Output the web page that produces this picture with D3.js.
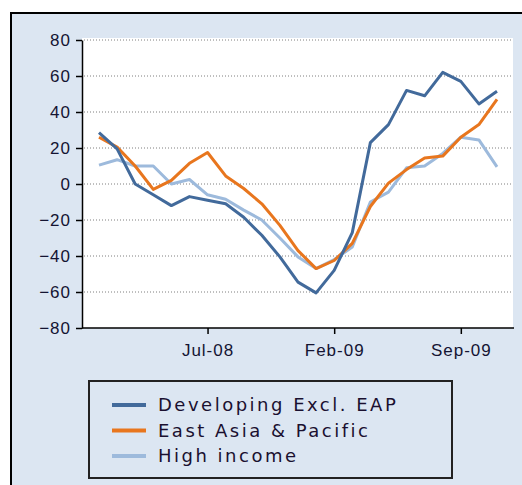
<!DOCTYPE html>
<html>
<head>
<meta charset="utf-8">
<script src="https://cdn.jsdelivr.net/npm/d3@7"></script>
<style>
  body { margin: 0; background: #fff; }
  svg { display: block; font-family: "DejaVu Sans", Verdana, sans-serif; }
</style>
</head>
<body>
<svg id="chart" width="522" height="485"></svg>
<script>
const months = ["Jan-08", "Feb-08", "Mar-08", "Apr-08", "May-08", "Jun-08", "Jul-08", "Aug-08",
  "Sep-08", "Oct-08", "Nov-08", "Dec-08", "Jan-09", "Feb-09", "Mar-09", "Apr-09", "May-09",
  "Jun-09", "Jul-09", "Aug-09", "Sep-09", "Oct-09", "Nov-09"];

const developing = [28.5, 19.5, 0, -6, -12, -7, -9, -11, -18.5, -28.5, -40.5, -54.5, -60.5,
  -48, -27, 23, 33, 52, 49, 62, 57, 44.5, 51.5];
const eastAsia = [26, 20.5, 10, -3, 2, 11.5, 17.5, 4.5, -2.5, -11, -23, -37, -47,
  -42.5, -33, -12.5, 0.5, 8, 14.5, 15.5, 26, 33, 47];
const highIncome = [10.5, 13.5, 10, 10, 0, 2.5, -6, -8.5, -14.5, -20, -30, -40.5, -47,
  -42, -35, -10, -4.5, 9, 10, 17, 26, 24.5, 9.5];

const xTicks = ["Jul-08", "Feb-09", "Sep-09"];
const yTicks = [-80, -60, -40, -20, 0, 20, 40, 60, 80];

const seriesNames = ["Developing Excl. EAP", "East Asia & Pacific", "High income"];
const seriesColors = ["#426a9b", "#e8761e", "#9dbadc"];

const series = [developing, eastAsia, highIncome].map((values, i) => ({
  name: seriesNames[i],
  color: seriesColors[i],
  values
}));

const svg = d3.select("#chart");

// outer panel, runs off the right and bottom edges
svg.append("rect")
  .attr("x", 11).attr("y", 13)
  .attr("width", 530).attr("height", 490)
  .attr("fill", "#dce6f2")
  .attr("stroke", "#000")
  .attr("stroke-width", 2);

const x = d3.scalePoint().domain(months).range([99, 497]);
const y = d3.scaleLinear().domain([-80, 80]).range([328, 40]);

svg.append("rect")
  .attr("x", 82).attr("y", 38)
  .attr("width", 431).attr("height", 290)
  .attr("fill", "#fff");

// dotted gridlines
svg.append("g")
  .selectAll("line")
  .data(yTicks.filter(d => d > -80))
  .join("line")
  .attr("x1", 84).attr("x2", 512)
  .attr("y1", d => y(d)).attr("y2", d => y(d))
  .attr("stroke", "#7f7f7f")
  .attr("stroke-width", 1)
  .attr("stroke-dasharray", "1,2");

const line = d3.line()
  .x((d, i) => x(months[i]))
  .y(d => y(d));

svg.append("g")
  .selectAll("path")
  .data(series.slice().reverse())
  .join("path")
  .attr("d", d => line(d.values))
  .attr("fill", "none")
  .attr("stroke", d => d.color)
  .attr("stroke-width", 3)
  .attr("stroke-linejoin", "round");

// axes
const yAxis = svg.append("g")
  .attr("transform", "translate(82,0)")
  .call(d3.axisLeft(y).tickValues(yTicks).tickSize(6).tickSizeOuter(0).tickPadding(5));

const xAxis = svg.append("g")
  .attr("transform", "translate(0,328)")
  .call(d3.axisBottom(x).tickValues(xTicks).tickSize(6).tickSizeOuter(0).tickPadding(10));

xAxis.select(".domain").attr("d", "M82,0H514");

[yAxis, xAxis].forEach(g => {
  g.select(".domain").attr("stroke", "#000").attr("stroke-width", 1.5);
  g.selectAll(".tick line").attr("stroke", "#000").attr("stroke-width", 1.5);
  g.selectAll(".tick text")
    .attr("fill", "#141432")
    .style("font-size", "17px")
    .style("letter-spacing", "1px");
});

// legend
const legend = svg.append("g");
legend.append("rect")
  .attr("x", 89).attr("y", 381)
  .attr("width", 363).attr("height", 97)
  .attr("fill", "none")
  .attr("stroke", "#222")
  .attr("stroke-width", 2);

const items = legend.selectAll(".item")
  .data(series)
  .join("g")
  .attr("class", "item")
  .attr("transform", (d, i) => `translate(0,${405 + i * 25.5})`);

items.append("line")
  .attr("x1", 112).attr("x2", 146)
  .attr("stroke", d => d.color)
  .attr("stroke-width", 4);

items.append("text")
  .attr("x", 158)
  .attr("dy", "0.36em")
  .attr("fill", "#1a1030")
  .style("font-size", "18px")
  .style("letter-spacing", "2.5px")
  .text(d => d.name);
</script>
</body>
</html>
